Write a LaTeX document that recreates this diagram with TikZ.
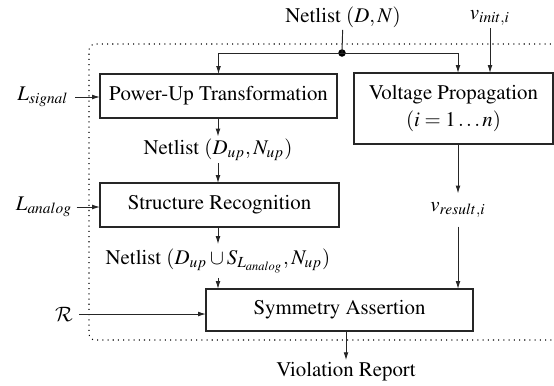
\documentclass[tikz,border=0pt]{standalone}
\usepackage[T1]{fontenc}
\usepackage{mathptmx}
\DeclareMathAlphabet{\mathcal}{OMS}{cmsy}{m}{n}
\usetikzlibrary{arrows.meta}

\begin{document}
\begin{tikzpicture}[x=0.48pt,y=-0.48pt,
  box/.style={draw=black!85, line width=0.6pt, inner sep=0pt, outer sep=0pt},
  lbl/.style={inner sep=1pt},
  arr/.style={-{Latex[length=3.8pt,width=2.3pt]}, line width=0.45pt, draw=black!85}]
\useasboundingbox (0,0) rectangle (554,385);
\draw[dotted, line width=0.5pt, rounded corners=3pt] (556,44) -- (89,44) -- (89,340) -- (556,340);
\node[box, minimum width=113.8pt, minimum height=21.1pt] (pwr) at (218.5,96) {Power-Up Transformation};
\node[box, minimum width=95.5pt, minimum height=34.1pt, align=center] (vprop) at (453.5,108.5) {Voltage Propagation\\[1pt] $(i=1\ldots n)$};
\node[box, minimum width=114.7pt, minimum height=21.1pt] (struct) at (219.5,205) {Structure Recognition};
\node[box, minimum width=128.2pt, minimum height=20.2pt] (sym) at (339.5,310) {Symmetry Assertion};
\node[lbl] (netin) at (343,17) {Netlist $(D,N)$};
\node[lbl] (vinit) at (490,18) {$v_{init,i}$};
\node[circle, fill=black, inner sep=0pt, minimum size=3.6pt] (dot) at (342,53) {};
\node[lbl, inner sep=3pt] (lsig) at (43,97) {$L_{signal}$};
\node[lbl] (nup) at (218,150) {Netlist $(D_{up},N_{up})$};
\node[lbl, inner sep=2pt] (lana) at (44,207) {$L_{analog}$};
\node[lbl, inner sep=2pt] (nsl) at (218,261) {Netlist $(D_{up}\cup S_{L_{analog}},N_{up})$};
\node[lbl, inner sep=4pt] (vres) at (458,210) {$v_{result,i}$};
\node[lbl, inner sep=3pt] (rcal) at (64,314) {$\mathcal{R}$};
\node[lbl] (viol) at (346,372) {Violation Report};
\draw[line width=0.45pt, draw=black!85] (netin) -- (dot.center);
\draw[arr] (dot.center) -| (pwr.north);
\draw[arr] (dot.center) -| (vprop.north -| vres);
\draw[arr] (vinit) -- (vinit |- vprop.north);
\draw[arr] (lsig.east) -- (lsig.east -| pwr.west);
\draw[arr] (pwr.south -| nup) -- (nup);
\draw[arr] (nup) -- (nup |- struct.north);
\draw[arr] (lana.east) -- (lana.east -| struct.west);
\draw[arr] (struct.south -| nsl) -- (nsl);
\draw[arr] (nsl) -- (nsl |- sym.north);
\draw[arr] (vprop.south -| vres) -- (vres);
\draw[arr] (vres) -- (vres |- sym.north);
\draw[arr] (rcal.east) -- (rcal.east -| sym.west);
\draw[arr] (sym.south -| viol) -- (viol);
\end{tikzpicture}
\end{document}
